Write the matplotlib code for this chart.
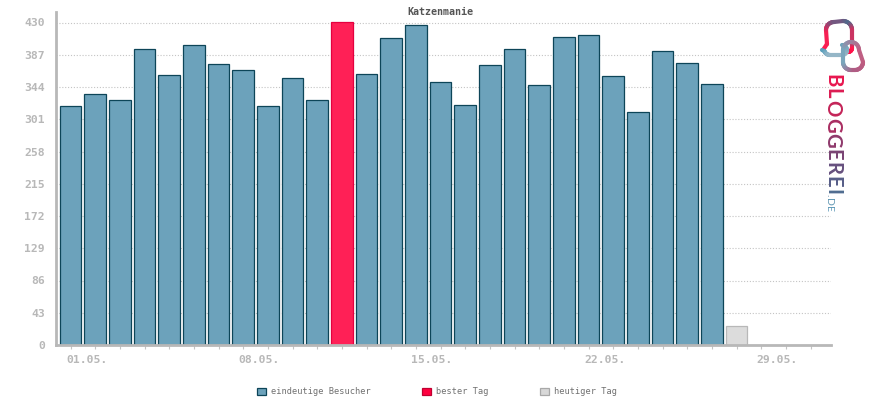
import numpy as np
import matplotlib
matplotlib.use("Agg")
import matplotlib.pyplot as plt
from matplotlib.collections import LineCollection
from matplotlib.colors import LinearSegmentedColormap
from matplotlib.patches import Patch
from matplotlib.transforms import ScaledTranslation

days = list(range(1, 32))
visitors = [319, 335, 327, 395, 360, 400, 375, 367, 319, 356, 327, 431, 361, 409,
            427, 351, 320, 373, 395, 347, 411, 413, 359, 311, 392, 376, 348]
best_day = 12
today = [28]
today_value = [25]
y_ticks = [0, 43, 86, 129, 172, 215, 258, 301, 344, 387, 430]
x_labels = {1: "01.05.", 8: "08.05.", 15: "15.05.", 22: "22.05.", 29: "29.05."}

grey = "#b8b8b8"
mono = "DejaVu Sans Mono"

fig = plt.figure(figsize=(8.7, 4), dpi=100)
W, H = 870, 400
# axes box in pixels: left 56, right 831, top 12, bottom 345
ax = fig.add_axes([56 / W, (H - 345) / H, (831 - 56) / W, (345 - 12) / H])

day_nums = days[:len(visitors)]
colors = ["#ff2056" if d == best_day else "#6ca2bb" for d in day_nums]
edges = ["#e4003f" if d == best_day else "#0d4558" for d in day_nums]
ax.bar(day_nums, visitors, width=0.88, color=colors, edgecolor=edges, linewidth=0.9, zorder=2)
ax.bar(today, today_value, width=0.88, color="#dcdcdc", edgecolor=grey, linewidth=0.9, zorder=2)

ax.set_xlim(0.41, 31.83)
ax.set_ylim(0, 444)
ax.set_yticks(y_ticks)
ax.grid(axis="y", linestyle=(0, (1, 1.6)), color="#c4c4c4", linewidth=0.8, zorder=0)
ax.set_axisbelow(True)

for s in ["top", "right"]:
    ax.spines[s].set_visible(False)
for s in ["left", "bottom"]:
    ax.spines[s].set_color(grey)
    ax.spines[s].set_linewidth(2)
    ax.spines[s].set_zorder(3)

ax.set_xticks(days)
ax.set_xticklabels([x_labels.get(d, "") for d in days], fontfamily=mono, fontsize=8.2, color=grey, ha="left")
ax.tick_params(axis="x", length=3, width=0.8, color="#c4c4c4", pad=4)
ax.tick_params(axis="y", length=0, pad=8, labelcolor=grey)
for lab in ax.get_yticklabels():
    lab.set_fontfamily(mono)
    lab.set_fontsize(8.2)
    lab.set_fontweight("bold")
shift = ScaledTranslation(-4.5 / 100, 0, fig.dpi_scale_trans)
for lab in ax.get_xticklabels():
    lab.set_transform(lab.get_transform() + shift)
    lab.set_fontweight("bold")

fig.text(440 / W, 1 - 12 / H, "Katzenmanie", family=mono, fontsize=7.2, fontweight="bold",
         color="#555555", ha="center", va="center")

handles = [Patch(facecolor="#6ca2bb", edgecolor="#0d4558", linewidth=0.9),
           Patch(facecolor="#ff0040", edgecolor="#c00030", linewidth=0.9),
           Patch(facecolor="#d8d8d8", edgecolor="#a8a8a8", linewidth=0.9)]
fig.legend(handles, ["eindeutige Besucher", "bester Tag", "heutiger Tag"], ncol=3, frameon=False,
           loc="center", bbox_to_anchor=(437 / W, 1 - 392 / H), handlelength=1.0, handleheight=1.0,
           handletextpad=0.6, columnspacing=6.0, labelcolor="#707070",
           prop={"family": mono, "size": 6.2})

# logo, drawn in pixel coordinates on a full figure overlay
logo = fig.add_axes([0, 0, 1, 1], facecolor="none")
logo.set_xlim(0, W)
logo.set_ylim(H, 0)
logo.axis("off")


def arc(cx, cy, r, a0, a1, n=14):
    t = np.radians(np.linspace(a0, a1, n))
    return np.column_stack([cx + r * np.cos(t), cy + r * np.sin(t)])


def stroke(pts, cols, lw):
    cmap = LinearSegmentedColormap.from_list("logo", cols)
    segs = np.stack([pts[:-1], pts[1:]], axis=1)
    lc = LineCollection(segs, cmap=cmap, linewidth=lw, capstyle="round")
    lc.set_array(np.linspace(0, 1, len(segs)))
    logo.add_collection(lc)


loop = np.vstack([[[823, 50]], [[827, 44]], arc(834, 30, 8, 180, 270),
                  arc(843, 30, 9, 270, 360), [[852, 48]], arc(848, 48, 4, 0, 90)])
stroke(loop, ["#ff1c50", "#8a4a78", "#4f6a8c", "#ff1c50", "#ff1048"], 3)
link = np.vstack([[[822, 50]], arc(830, 49, 6, 160, 90), [[842, 55]], arc(842, 50, 5, 90, -90)])
stroke(link, ["#5aa0bc", "#8db4c8", "#9db8c6", "#6ca2bb"], 3)
ring = np.vstack([arc(851, 50, 8, 180, 360), arc(855, 62, 8, 0, 90), arc(851, 62, 8, 90, 180),
                  [[843, 50]]])
stroke(ring, ["#7aa6bc", "#c25c80", "#b05c84", "#7aa6bc"], 3)

# vertical logo text, one letter at a time for the colour fade
word = "BLOGGEREI"
word_cols = ["#e8174f", "#dc1c52", "#c42458", "#a92e62", "#8f3a6c", "#7a4474", "#66507e", "#575e88", "#4f6c90"]
fig.canvas.draw()
renderer = fig.canvas.get_renderer()
y = 74.0
for ch, c in zip(word, word_cols):
    t = fig.text(832 / W, 1 - y / H, ch, family="Lato", fontsize=14.6, fontweight="bold", color=c,
                 rotation=270, ha="center", va="top")
    y += t.get_window_extent(renderer).height + 1.1
y = 194.0
for ch, c in zip(".DE", ["#5f86a4", "#5f96b2", "#5f9ab8"]):
    t = fig.text(829 / W, 1 - y / H, ch, family="Lato", fontsize=7.5, color=c,
                 rotation=270, ha="center", va="top")
    y += t.get_window_extent(renderer).height + 1.0

fig.savefig("out.png", dpi=100)
